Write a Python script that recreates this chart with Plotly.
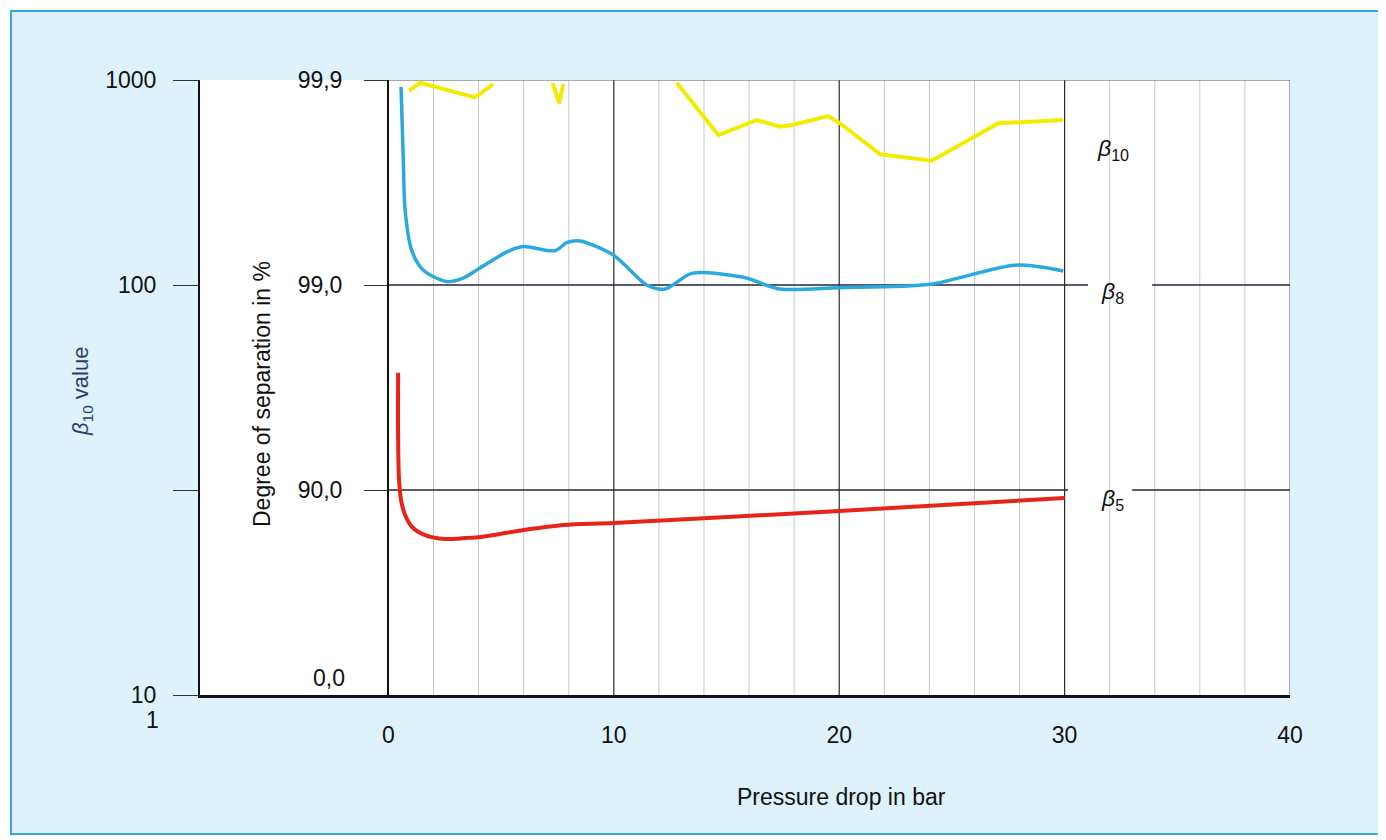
import plotly.graph_objects as go

# ---------------- data ----------------
pressure_ticks = [0, 10, 20, 30, 40]
pressure_tick_labels = ["0", "10", "20", "30", "40"]
beta_ticks = [1000, 100, 10, 1]
beta_tick_labels = ["1000", "100", "", "10"]
separation_ticks = [1000, 100, 10]
separation_labels = ["99,9", "99,0", "90,0"]

minor_grid_x = [2, 4, 6, 8, 12, 14, 16, 18, 22, 24, 26, 28, 32, 34, 36, 38]
major_grid_x = [10, 20, 30]

# beta_5 curve (red)
b5_pressure = [0.43, 0.43, 0.47, 0.56, 0.74, 1.05, 1.62, 2.51, 3.40, 4.1, 6.0, 7.8, 10.0, 20.0, 30.0]
b5_beta = [37.3, 17.5, 11.2, 8.93, 7.55, 6.60, 6.03, 5.77, 5.83, 5.9, 6.38, 6.75, 6.90, 7.90, 9.14]

# beta_8 curve (blue)
b8_pressure = [0.56, 0.66, 0.74, 1.03, 1.55, 2.59, 3.32, 4.06, 5.26, 5.98, 7.39, 7.91, 8.50,
               9.98, 11.46, 12.28, 13.46, 15.75, 17.37, 19.96, 24.03, 27.80, 29.94]
b8_beta = [924, 407, 232, 148, 118, 104, 108, 121, 145, 154, 147, 161, 164,
           140, 100, 95.6, 114, 109, 95.6, 97, 100.8, 125, 117]

# beta_10 curve (yellow, broken where it leaves the chart)
b10_pressure = [0.93, 1.40, 3.84, 4.65, None, 7.29, 7.57, 7.76, None,
                12.79, 14.64, 16.34, 17.37, 17.96, 19.52, 20.04, 21.82, 24.11, 27.06, 29.94]
b10_beta = [887, 970, 823, 956, None, 964, 770, 956, None,
            970, 539, 638, 592, 605, 667, 615, 434, 404, 615, 638]

# reference levels (beta = 100 and beta = 10) with gaps for labels
ref100_x = [0, 31.04, None, 33.88, 40]
ref100_y = [100, 100, None, 100, 100]
ref10_x = [0, 30.15, None, 33.0, 40]
ref10_y = [10, 10, None, 10, 10]

FONT = "Liberation Sans, Arial, Helvetica, sans-serif"

# the page body adds an 8px offset; figure is sized so that it lands on the window
OFF = 8
W, H = 1386 - OFF, 840 - OFF
L, T = 200 - OFF, 80 - OFF
R = W - (1290 - OFF)
B = H - (695 - OFF)
PW, PH = W - L - R, H - T - B


def px(xpix):
    return (xpix - OFF - L) / PW


def py(ypix):
    return 1 - (ypix - OFF - T) / PH


def vlines(xs, y0=1, y1=1000):
    xx, yy = [], []
    for v in xs:
        xx += [v, v, None]
        yy += [y0, y1, None]
    return xx, yy


fig = go.Figure()

gx, gy = vlines(minor_grid_x)
fig.add_trace(go.Scatter(x=gx, y=gy, mode="lines", line=dict(color="#c8c8c8", width=1),
                         hoverinfo="skip", showlegend=False))
gx, gy = vlines(major_grid_x)
fig.add_trace(go.Scatter(x=gx, y=gy, mode="lines", line=dict(color="#2a2a2a", width=1.2),
                         hoverinfo="skip", showlegend=False))
gx, gy = vlines([40])
fig.add_trace(go.Scatter(x=gx, y=gy, mode="lines", line=dict(color="#555555", width=1),
                         hoverinfo="skip", showlegend=False))
fig.add_trace(go.Scatter(x=[0, 40], y=[1000, 1000], mode="lines", line=dict(color="#555555", width=1),
                         hoverinfo="skip", showlegend=False))

fig.add_trace(go.Scatter(x=ref100_x, y=ref100_y, mode="lines", line=dict(color="#24243a", width=1.5),
                         hoverinfo="skip", showlegend=False))
fig.add_trace(go.Scatter(x=ref10_x, y=ref10_y, mode="lines", line=dict(color="#24243a", width=1.5),
                         hoverinfo="skip", showlegend=False))

fig.add_trace(go.Scatter(x=b10_pressure, y=b10_beta, mode="lines", name="β10",
                         line=dict(color="#f4ec00", width=4), showlegend=False))
fig.add_trace(go.Scatter(x=b8_pressure, y=b8_beta, mode="lines", name="β8",
                         line=dict(color="#2aa9e0", width=3.5, shape="spline", smoothing=0.8),
                         showlegend=False))
fig.add_trace(go.Scatter(x=b5_pressure, y=b5_beta, mode="lines", name="β5",
                         line=dict(color="#e8231a", width=4, shape="spline", smoothing=0.8),
                         showlegend=False))

shapes = [
    dict(type="rect", xref="paper", yref="paper", x0=px(11), x1=px(1379), y0=py(834), y1=py(11),
         fillcolor="#ddf2fa", line=dict(color="#35a6dd", width=2), layer="below"),
    dict(type="rect", xref="paper", yref="paper", x0=0, x1=1, y0=0, y1=1,
         fillcolor="white", line=dict(width=0), layer="below"),
]

TS = 23
annotations = [
    dict(text="1", xref="paper", yref="paper", x=px(161), y=py(720), xanchor="right", yanchor="middle",
         showarrow=False, font=dict(size=TS, color="#111", family=FONT)),
    dict(text="0,0", xref="paper", yref="paper", x=px(347), y=py(678), xanchor="right", yanchor="middle",
         showarrow=False, font=dict(size=TS, color="#111", family=FONT)),
    dict(text="Pressure drop in bar", xref="paper", yref="paper", x=px(841), y=py(797),
         xanchor="center", yanchor="middle", showarrow=False, font=dict(size=TS, color="#111", family=FONT)),
    dict(text="Degree of separation in %", xref="paper", yref="paper", x=px(262), y=py(394),
         xanchor="center", yanchor="middle", textangle=-90, showarrow=False,
         font=dict(size=TS, color="#111", family=FONT)),
    dict(text="<i>β</i><sub>10</sub> value", xref="paper", yref="paper", x=px(82), y=py(392),
         xanchor="center", yanchor="middle", textangle=-90, showarrow=False,
         font=dict(size=22, color="#2c3f70", family=FONT)),
    dict(text="<i>β</i><sub>10</sub>", xref="paper", yref="paper", x=px(1095), y=py(150),
         xanchor="left", yanchor="middle", showarrow=False, font=dict(size=TS, color="#111", family=FONT)),
    dict(text="<i>β</i><sub>8</sub>", xref="paper", yref="paper", x=px(1099), y=py(292),
         xanchor="left", yanchor="middle", showarrow=False, font=dict(size=TS, color="#111", family=FONT)),
    dict(text="<i>β</i><sub>5</sub>", xref="paper", yref="paper", x=px(1099), y=py(499),
         xanchor="left", yanchor="middle", showarrow=False, font=dict(size=TS, color="#111", family=FONT)),
]

fig.update_layout(
    width=W, height=H, autosize=False,
    margin=dict(l=L, r=R, t=T, b=B, pad=0),
    paper_bgcolor="white", plot_bgcolor="white",
    font=dict(family=FONT, size=TS, color="#111"),
    showlegend=False,
    shapes=shapes, annotations=annotations,
    xaxis=dict(range=[-8.36, 40], tickvals=pressure_ticks, ticktext=pressure_tick_labels,
               showgrid=False, zeroline=False, showline=True, linecolor="#111", linewidth=3,
               ticks="", ticklabelstandoff=17, automargin=False, fixedrange=True,
               tickfont=dict(size=TS, family=FONT, color="#111")),
    yaxis=dict(type="log", range=[0, 3], tickvals=beta_ticks, ticktext=beta_tick_labels,
               showgrid=False, zeroline=False, showline=True, linecolor="#111", linewidth=2,
               ticks="outside", ticklen=25, tickwidth=1, tickcolor="#333", ticklabelstandoff=12,
               automargin=False, fixedrange=True, tickfont=dict(size=TS, family=FONT, color="#111")),
    yaxis2=dict(type="log", range=[0, 3], overlaying="y", anchor="free", position=(388 - 200) / PW,
                side="left", tickvals=separation_ticks, ticktext=separation_labels,
                showgrid=False, zeroline=False, showline=True, linecolor="#111", linewidth=2,
                ticks="outside", ticklen=23, tickwidth=1, tickcolor="#333", ticklabelstandoff=17,
                automargin=False, fixedrange=True, tickfont=dict(size=TS, family=FONT, color="#111")),
)

# dummy trace so that the second (separation) axis is drawn
fig.add_trace(go.Scatter(x=[None], y=[None], yaxis="y2", showlegend=False, hoverinfo="skip"))

fig.write_html("out.html")
